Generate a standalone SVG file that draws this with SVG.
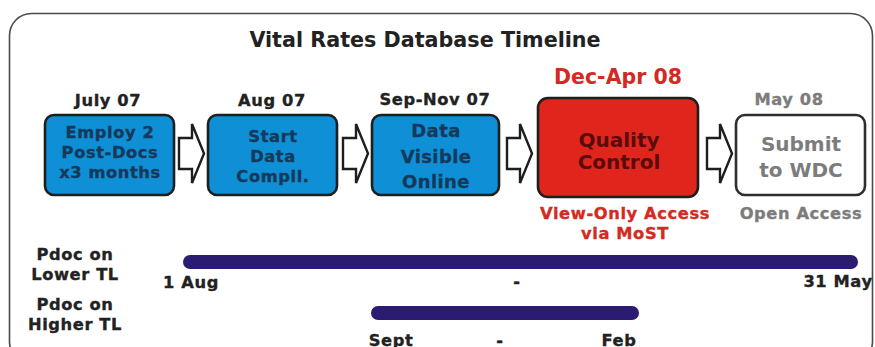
<svg xmlns="http://www.w3.org/2000/svg" width="875" height="347" viewBox="0 0 875 347">
<style>
text{font-family:"DejaVu Sans","Verdana",sans-serif;font-weight:bold;text-anchor:middle}
.frame{fill:#ffffff;stroke:#4a4a4a;stroke-width:1.6}
.title{font-size:20.7px;fill:#222222}
.lbl{font-size:16.3px;fill:#222222;letter-spacing:0.6px;stroke:#222222;stroke-width:0.35px}
.gray{fill:#7c7c7c;stroke:#7c7c7c}
.red{fill:#d42a22;stroke:#d42a22}
.box{stroke:#1e1e1e;stroke-width:2.6}
.blue{fill:#0e8fd6}
.bt{font-size:16.3px;fill:#15395a;letter-spacing:0.6px;stroke:#15395a;stroke-width:0.35px}
.bt3{font-size:18px;fill:#15395a;letter-spacing:0.4px;stroke:#15395a;stroke-width:0.3px}
.qc{fill:#e0251c}
.qct{font-size:20px;fill:#5a0c0c}
.wb{fill:#ffffff;stroke:#2e2e2e}
.wt{font-size:20px;fill:#7c7c7c}
.arr{fill:#ffffff;stroke:#1e1e1e;stroke-width:2.4;stroke-linejoin:miter}
.bar{stroke:#2b1c72;stroke-width:14;stroke-linecap:round}
</style>
<defs>
<path id="arrow" d="M0,-15.5 H13 V-29.5 L25,0 L13,29.5 V15.5 H0 Z"/>
</defs>
<rect class="frame" x="9.5" y="13.5" width="863" height="350" rx="22"/>
<text class="title" x="425" y="47">Vital Rates Database Timeline</text>

<g id="node-employ">
<text class="lbl" x="108" y="106">July 07</text>
<rect class="box blue" x="45" y="115" width="129" height="80" rx="9"/>
<text class="bt" x="110" y="138">Employ 2</text>
<text class="bt" x="110" y="158">Post-Docs</text>
<text class="bt" x="110" y="178">x3 months</text>
</g>

<g id="node-start">
<text class="lbl" x="272" y="106">Aug 07</text>
<rect class="box blue" x="208" y="115" width="129" height="80" rx="9"/>
<text class="bt" x="273" y="141.5">Start</text>
<text class="bt" x="273" y="161.5">Data</text>
<text class="bt" x="273" y="181.5">Compil.</text>
</g>

<g id="node-visible">
<text class="lbl" x="435" y="105">Sep-Nov 07</text>
<rect class="box blue" x="372" y="115" width="127" height="80" rx="9"/>
<text class="bt3" x="436" y="137">Data</text>
<text class="bt3" x="436" y="162.5">Visible</text>
<text class="bt3" x="436" y="188">Online</text>
</g>

<g id="node-qc">
<text class="title red" x="618" y="84" style="font-size:20.5px;stroke:none">Dec-Apr 08</text>
<rect class="box qc" x="538" y="98" width="160" height="99" rx="10"/>
<text class="qct" x="619" y="147">Quality</text>
<text class="qct" x="619" y="169">Control</text>
<text class="lbl red" x="625" y="219">View-Only Access</text>
<text class="lbl red" x="625" y="239">via MoST</text>
</g>

<g id="node-submit">
<text class="lbl gray" x="789" y="105">May 08</text>
<rect class="box wb" x="736" y="115" width="129" height="80" rx="9"/>
<text class="wt" x="801" y="151">Submit</text>
<text class="wt" x="801" y="177">to WDC</text>
<text class="lbl gray" x="801" y="219">Open Access</text>
</g>

<g id="connectors">
<use href="#arrow" class="arr" x="179" y="153.5"/>
<use href="#arrow" class="arr" x="343" y="153.5"/>
<use href="#arrow" class="arr" x="507" y="153.5"/>
<use href="#arrow" class="arr" x="707" y="153.5"/>
</g>

<g id="timeline-lower">
<text class="lbl" x="75" y="260">Pdoc on</text>
<text class="lbl" x="75" y="280">Lower TL</text>
<line class="bar" x1="190" y1="262" x2="851" y2="262"/>
<text class="lbl" x="191" y="288">1 Aug</text>
<text class="lbl" x="517" y="287">-</text>
<text class="lbl" x="838" y="287">31 May</text>
</g>

<g id="timeline-higher">
<text class="lbl" x="75" y="310">Pdoc on</text>
<text class="lbl" x="75" y="330">Higher TL</text>
<line class="bar" x1="378" y1="313" x2="632" y2="313"/>
<text class="lbl" x="391" y="346">Sept</text>
<text class="lbl" x="500" y="346">-</text>
<text class="lbl" x="619" y="346">Feb</text>
</g>
</svg>
